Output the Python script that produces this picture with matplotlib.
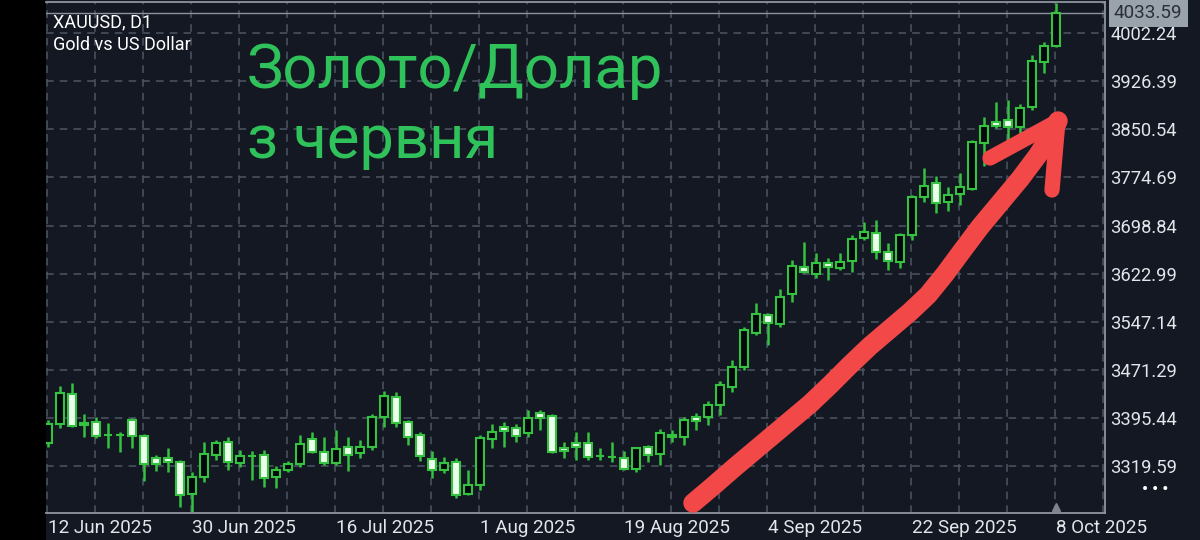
import matplotlib
matplotlib.use("Agg")
import matplotlib.pyplot as plt
from matplotlib.patches import FancyBboxPatch
from matplotlib.lines import Line2D
import pandas as pd

plt.rcParams['font.family'] = ['Roboto', 'DejaVu Sans']

# ---------------- data (XAUUSD daily, 12 Jun 2025 - 8 Oct 2025) ----------------
dates = pd.bdate_range("2025-06-12", "2025-10-08")

opens = [3355.7, 3385.7, 3433.1, 3387.3, 3388.9, 3368.4, 3367.6, 3392.0, 3366.8, 3332.1,
         3332.1, 3325.8, 3275.3, 3302.1, 3336.8, 3357.3, 3324.2, 3335.2, 3336.8, 3302.1,
         3313.1, 3322.6, 3362.1, 3341.5, 3324.2, 3349.4, 3340.0, 3349.4, 3396.8, 3428.3,
         3388.9, 3368.4, 3330.5, 3313.1, 3325.8, 3275.3, 3289.5, 3362.1, 3381.0, 3379.4,
         3371.5, 3403.1, 3398.3, 3347.9, 3355.7, 3355.7, 3335.2, 3333.6, 3332.1, 3314.7,
         3349.4, 3338.4, 3368.4, 3365.2, 3396.8, 3396.8, 3415.7, 3444.1, 3475.7, 3529.3,
         3557.7, 3543.5, 3590.9, 3633.5, 3622.4, 3639.8, 3631.9, 3642.9, 3679.2, 3687.1,
         3657.1, 3641.4, 3684.0, 3743.9, 3766.0, 3736.0, 3748.7, 3756.6, 3829.1, 3862.3,
         3865.4, 3854.4, 3885.9, 3957.0, 3982.2]
highs = [3392.0, 3445.7, 3450.4, 3401.5, 3396.8, 3387.3, 3373.1, 3395.2, 3369.9, 3336.8,
         3347.9, 3328.9, 3310.0, 3357.3, 3360.5, 3365.2, 3344.7, 3343.1, 3344.7, 3319.4,
         3327.3, 3368.4, 3373.1, 3365.2, 3376.3, 3365.2, 3360.5, 3401.5, 3437.8, 3436.2,
         3392.0, 3373.1, 3343.1, 3333.6, 3332.1, 3313.1, 3368.4, 3385.7, 3388.9, 3385.7,
         3407.8, 3407.8, 3401.5, 3357.3, 3373.1, 3373.1, 3347.9, 3357.3, 3343.1, 3349.4,
         3352.6, 3377.8, 3376.3, 3396.8, 3403.1, 3422.0, 3453.6, 3486.7, 3538.8, 3576.7,
         3560.9, 3598.8, 3644.5, 3672.9, 3655.6, 3647.7, 3655.6, 3684.0, 3704.5, 3707.6,
         3671.3, 3687.1, 3747.1, 3789.7, 3777.1, 3759.7, 3781.8, 3833.9, 3870.2, 3893.8,
         3897.0, 3890.7, 3968.0, 3988.5, 4050.1]
lows = [3349.4, 3379.4, 3381.0, 3365.2, 3363.6, 3347.9, 3341.5, 3347.9, 3295.8, 3311.6,
        3310.0, 3254.7, 3246.9, 3294.2, 3328.9, 3313.1, 3317.9, 3297.4, 3286.3, 3284.7,
        3310.0, 3317.9, 3340.0, 3321.0, 3321.0, 3311.6, 3332.1, 3344.7, 3381.0, 3381.0,
        3352.6, 3327.3, 3300.5, 3308.4, 3269.0, 3273.7, 3281.6, 3347.9, 3349.4, 3357.3,
        3365.2, 3376.3, 3340.0, 3332.1, 3328.9, 3328.9, 3328.9, 3325.8, 3313.1, 3310.0,
        3325.8, 3321.0, 3357.3, 3352.6, 3376.3, 3384.1, 3399.9, 3436.2, 3470.9, 3526.2,
        3510.4, 3538.8, 3578.2, 3624.0, 3616.1, 3613.0, 3628.7, 3625.6, 3676.1, 3646.1,
        3628.7, 3631.9, 3676.1, 3736.0, 3718.7, 3721.8, 3731.3, 3755.0, 3792.8, 3852.8,
        3829.1, 3841.8, 3881.2, 3939.6, 3980.0]
closes = [3385.7, 3434.6, 3382.6, 3384.1, 3366.8, 3367.6, 3368.4, 3366.8, 3322.6, 3322.6,
          3325.8, 3273.7, 3302.1, 3338.4, 3355.7, 3325.8, 3335.2, 3335.8, 3300.5, 3313.1,
          3322.6, 3354.2, 3341.5, 3324.2, 3346.3, 3336.8, 3349.4, 3396.8, 3429.9, 3387.3,
          3365.2, 3335.2, 3313.1, 3324.2, 3273.7, 3289.5, 3363.6, 3373.1, 3374.7, 3366.8,
          3395.2, 3395.2, 3341.5, 3343.1, 3349.4, 3333.6, 3335.8, 3334.2, 3314.7, 3347.9,
          3336.8, 3371.5, 3365.2, 3392.0, 3390.5, 3415.7, 3447.3, 3475.7, 3534.1, 3559.3,
          3545.1, 3586.1, 3635.0, 3625.6, 3639.8, 3633.5, 3641.4, 3677.7, 3688.7, 3657.1,
          3642.9, 3684.0, 3743.9, 3761.3, 3734.5, 3747.1, 3759.7, 3830.7, 3856.0, 3856.0,
          3854.4, 3884.4, 3958.5, 3982.2, 4033.59]

price_ticks = [3319.59, 3395.44, 3471.29, 3547.14, 3622.99, 3698.84, 3774.69,
               3850.54, 3926.39, 4002.24]
price_tick_labels = ["3319.59", "3395.44", "3471.29", "3547.14", "3622.99", "3698.84",
                     "3774.69", "3850.54", "3926.39", "4002.24"]
date_tick_labels = ["12 Jun 2025", "30 Jun 2025", "16 Jul 2025", "1 Aug 2025",
                    "19 Aug 2025", "4 Sep 2025", "22 Sep 2025", "8 Oct 2025"]
last_price = 4033.59

# ---------------- style ----------------
W, H = 1200, 540
BG = "#131823"
GRID = "#4d5563"
EDGE = "#35c240"
BULL_FILL = "#05080d"
BEAR_FILL = "#ecffec"
TXT = "#e2e6ea"

fig = plt.figure(figsize=(W / 100, H / 100), dpi=100, facecolor="black")
panel = FancyBboxPatch((46 / W, -0.05), 1.2, 1.2, boxstyle="round,pad=0,rounding_size=0.012",
                       transform=fig.transFigure, facecolor=BG, edgecolor="none", zorder=-5)
fig.patches.append(panel)

L, R, T, B = 46, 1105, 2, 513
ax = fig.add_axes([L / W, 1 - B / H, (R - L) / W, (B - T) / H])
ax.set_facecolor(BG)
ax.set_zorder(1)

n = len(opens)
xs = list(range(n))
ax.set_xlim(-0.167, 88.08)
ax.set_ylim(3245.3, 4051.6)

# grid
for p in price_ticks:
    ax.axhline(p, color=GRID, lw=1.1, dashes=(5, 4), zorder=1)
for gx in range(0, 89, 4):
    ax.axvline(gx - 0.08, color=GRID, lw=1.1, dashes=(5, 4), zorder=1)

# candles
for i in xs:
    o, h, l, c = opens[i], highs[i], lows[i], closes[i]
    ax.vlines(i, l, h, color=EDGE, lw=1.8, zorder=2)
    bull = c >= o
    lo = min(o, c)
    ht = max(abs(c - o), 0.6)
    ax.bar(i, ht, bottom=lo, width=0.68, facecolor=BULL_FILL if bull else BEAR_FILL,
           edgecolor=EDGE, linewidth=1.5, zorder=3)

# current price line
ax.axhline(last_price, color="#8c939d", lw=1.0, zorder=1.5)

# spines
ax.spines["left"].set_visible(False)
for s in ["bottom", "right", "top"]:
    ax.spines[s].set_color("#8e96a1")
    ax.spines[s].set_linewidth(1.3)

# ticks
ax.yaxis.tick_right()
ax.set_yticks(price_ticks)
ax.set_yticklabels(price_tick_labels)
ax.tick_params(axis="y", length=0, pad=4, labelsize=13.2, labelcolor=TXT)

date_strs = [f"{d.day} {d.strftime('%b %Y')}" for d in dates]
tick_idx = [date_strs.index(t) for t in date_tick_labels]
ax.set_xticks(tick_idx)
ax.set_xticklabels(date_tick_labels, ha="left")
ax.tick_params(axis="x", length=0, pad=4, labelsize=13.6, labelcolor=TXT)

# last price tag
ax.text(1.0 + 9 / (R - L), last_price, f"{last_price:.2f}", transform=ax.get_yaxis_transform(),
        ha="left", va="center", fontsize=13.6, color="#2a2f38",
        bbox=dict(boxstyle="square,pad=0.26", facecolor="#9aa2ac", edgecolor="none"))

# marker triangle at last bar
ax.plot([n - 1], [0.012], marker="^", color="#7d848e", markersize=6,
        transform=ax.get_xaxis_transform(), clip_on=False, zorder=4)

# dots
fig.text(1155 / W, 1 - 490 / H, "• • •", ha="center", va="center", fontsize=12,
         fontweight="bold", color="white")

# symbol labels
fig.text(53 / W, 1 - 22 / H, "XAUUSD, D1", ha="left", va="center", fontsize=13, color="white",
         zorder=5)
fig.text(53 / W, 1 - 45 / H, "Gold vs US Dollar", ha="left", va="center", fontsize=13,
         color="white", zorder=5)

# big green annotation
GREEN = "#30c25a"
fig.text(247 / W, 1 - 88 / H, "Золото/Долар", ha="left", va="baseline", fontsize=44.3, color=GREEN,
         zorder=5)
fig.text(247 / W, 1 - 158 / H, "з червня", ha="left", va="baseline", fontsize=44.3, color=GREEN,
         zorder=5)

# hand-drawn red arrow (pixel path)
RED = "#f24848"
shaft = [(693, 503), (712, 487), (735, 467), (760, 446), (785, 425), (810, 404), (830, 385),
         (850, 365), (870, 346), (890, 329), (910, 312), (928, 295), (945, 274), (962, 251),
         (980, 227), (1000, 203), (1020, 179), (1038, 155), (1050, 136), (1058, 121)]
head_l = [(990, 158), (1025, 139), (1058, 121)]
head_r = [(1058, 121), (1055, 155), (1052, 190)]
for path, lw in [(shaft, 14), (head_l, 11), (head_r, 11)]:
    fig.lines.append(Line2D([p[0] / W for p in path], [1 - p[1] / H for p in path],
                            transform=fig.transFigure, color=RED, lw=lw,
                            solid_capstyle="round", solid_joinstyle="round", zorder=10))

fig.savefig("out.png", dpi=100, facecolor="black")
